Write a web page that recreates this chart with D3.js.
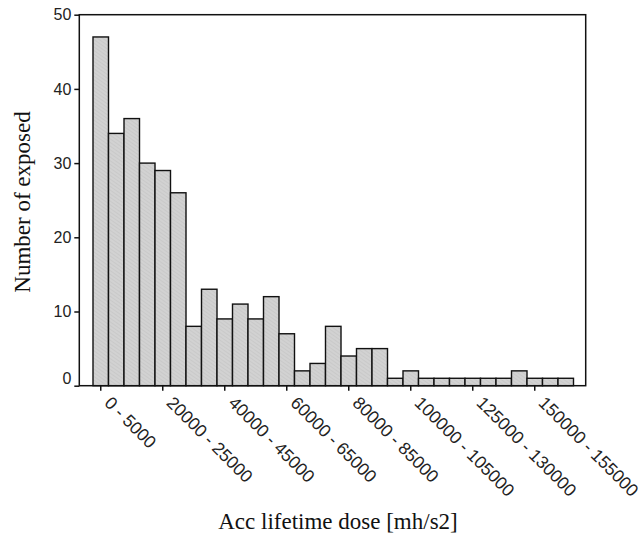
<!DOCTYPE html>
<html>
<head>
<meta charset="utf-8">
<script src="https://cdn.jsdelivr.net/npm/d3@7"></script>
<style>
  html, body { margin: 0; padding: 0; background: #fff; }
  svg { display: block; }
</style>
</head>
<body>
<svg id="chart" width="641" height="552"></svg>
<script>
const categories = [
  "0 - 5000", "5000 - 10000", "10000 - 15000", "15000 - 20000",
  "20000 - 25000", "25000 - 30000", "30000 - 35000", "35000 - 40000",
  "40000 - 45000", "45000 - 50000", "50000 - 55000", "55000 - 60000",
  "60000 - 65000", "65000 - 70000", "70000 - 75000", "75000 - 80000",
  "80000 - 85000", "85000 - 90000", "90000 - 95000", "95000 - 100000",
  "100000 - 105000", "105000 - 110000", "110000 - 115000", "115000 - 120000",
  "125000 - 130000", "130000 - 135000", "135000 - 140000", "145000 - 150000",
  "150000 - 155000", "155000 - 160000", "160000 - 165000"
];
const counts = [47, 34, 36, 30, 29, 26, 8, 13, 9, 11, 9, 12, 7, 2, 3, 8, 4, 5, 5, 1, 2, 1, 1, 1, 1, 1, 1, 2, 1, 1, 1];
const xTickLabels = ["0 - 5000", "20000 - 25000", "40000 - 45000", "60000 - 65000",
  "80000 - 85000", "100000 - 105000", "125000 - 130000", "150000 - 155000"];
const yTicks = [0, 10, 20, 30, 40, 50];
const xTitle = "Acc lifetime dose [mh/s2]";
const yTitle = "Number of exposed";

const svg = d3.select("#chart");
const frame = { left: 79.3, right: 585.7, top: 14.7, bottom: 385.7 };

const x = d3.scaleBand().domain(categories).range([93, 573.5]).padding(0);
const y = d3.scaleLinear().domain([0, 50]).range([frame.bottom, frame.top]);

// hatch pattern
const defs = svg.append("defs");
const pat = defs.append("pattern")
  .attr("id", "hatch").attr("patternUnits", "userSpaceOnUse")
  .attr("width", 3).attr("height", 3)
  .attr("patternTransform", "rotate(-55)");
pat.append("rect").attr("width", 3).attr("height", 3).attr("fill", "#d2d2d2");
pat.append("line").attr("x1", 0).attr("y1", 0).attr("x2", 0).attr("y2", 3)
  .attr("stroke", "#c0c0c0").attr("stroke-width", 1);

// bars
svg.append("g").selectAll("rect").data(counts).join("rect")
  .attr("x", (d, i) => x(categories[i]))
  .attr("y", d => y(d))
  .attr("width", x.bandwidth())
  .attr("height", d => y(0) - y(d))
  .attr("fill", "url(#hatch)")
  .attr("stroke", "#111")
  .attr("stroke-width", 1.4);

// frame
svg.append("rect")
  .attr("x", frame.left).attr("y", frame.top)
  .attr("width", frame.right - frame.left).attr("height", frame.bottom - frame.top)
  .attr("fill", "none").attr("stroke", "#111").attr("stroke-width", 1.5);

// y axis
const yAxis = svg.append("g")
  .attr("transform", `translate(${frame.left},0)`)
  .call(d3.axisLeft(y).tickValues(yTicks).tickSize(5).tickPadding(3));
yAxis.select(".domain").remove();
yAxis.selectAll("line").attr("stroke", "#111").attr("stroke-width", 1.5);
yAxis.selectAll("text")
  .attr("font-family", "Arial, 'Liberation Sans', sans-serif")
  .attr("font-size", 16).attr("fill", "#222")
  .attr("dy", d => d === 0 ? "-0.15em" : "0.32em");

// x axis
const xAxis = svg.append("g")
  .attr("transform", `translate(0,${frame.bottom})`)
  .call(d3.axisBottom(x).tickValues(xTickLabels).tickSize(5).tickPadding(0));
xAxis.select(".domain").remove();
xAxis.selectAll("line").attr("stroke", "#111").attr("stroke-width", 1.5);
xAxis.selectAll("text")
  .attr("font-family", "Arial, 'Liberation Sans', sans-serif")
  .attr("font-size", 17.5).attr("fill", "#222")
  .attr("text-anchor", "start")
  .attr("y", null)
  .attr("transform", "translate(4,17) rotate(45)")
  .attr("dy", "0.1em");

// axis titles
svg.append("text")
  .attr("x", 338).attr("y", 529)
  .attr("text-anchor", "middle")
  .attr("font-family", "'Times New Roman', 'Liberation Serif', serif")
  .attr("font-size", 23).attr("fill", "#111")
  .text(xTitle);

svg.append("text")
  .attr("transform", "translate(30,202) rotate(-90)")
  .attr("text-anchor", "middle")
  .attr("font-family", "'Times New Roman', 'Liberation Serif', serif")
  .attr("font-size", 23).attr("fill", "#111")
  .text(yTitle);
</script>
</body>
</html>
